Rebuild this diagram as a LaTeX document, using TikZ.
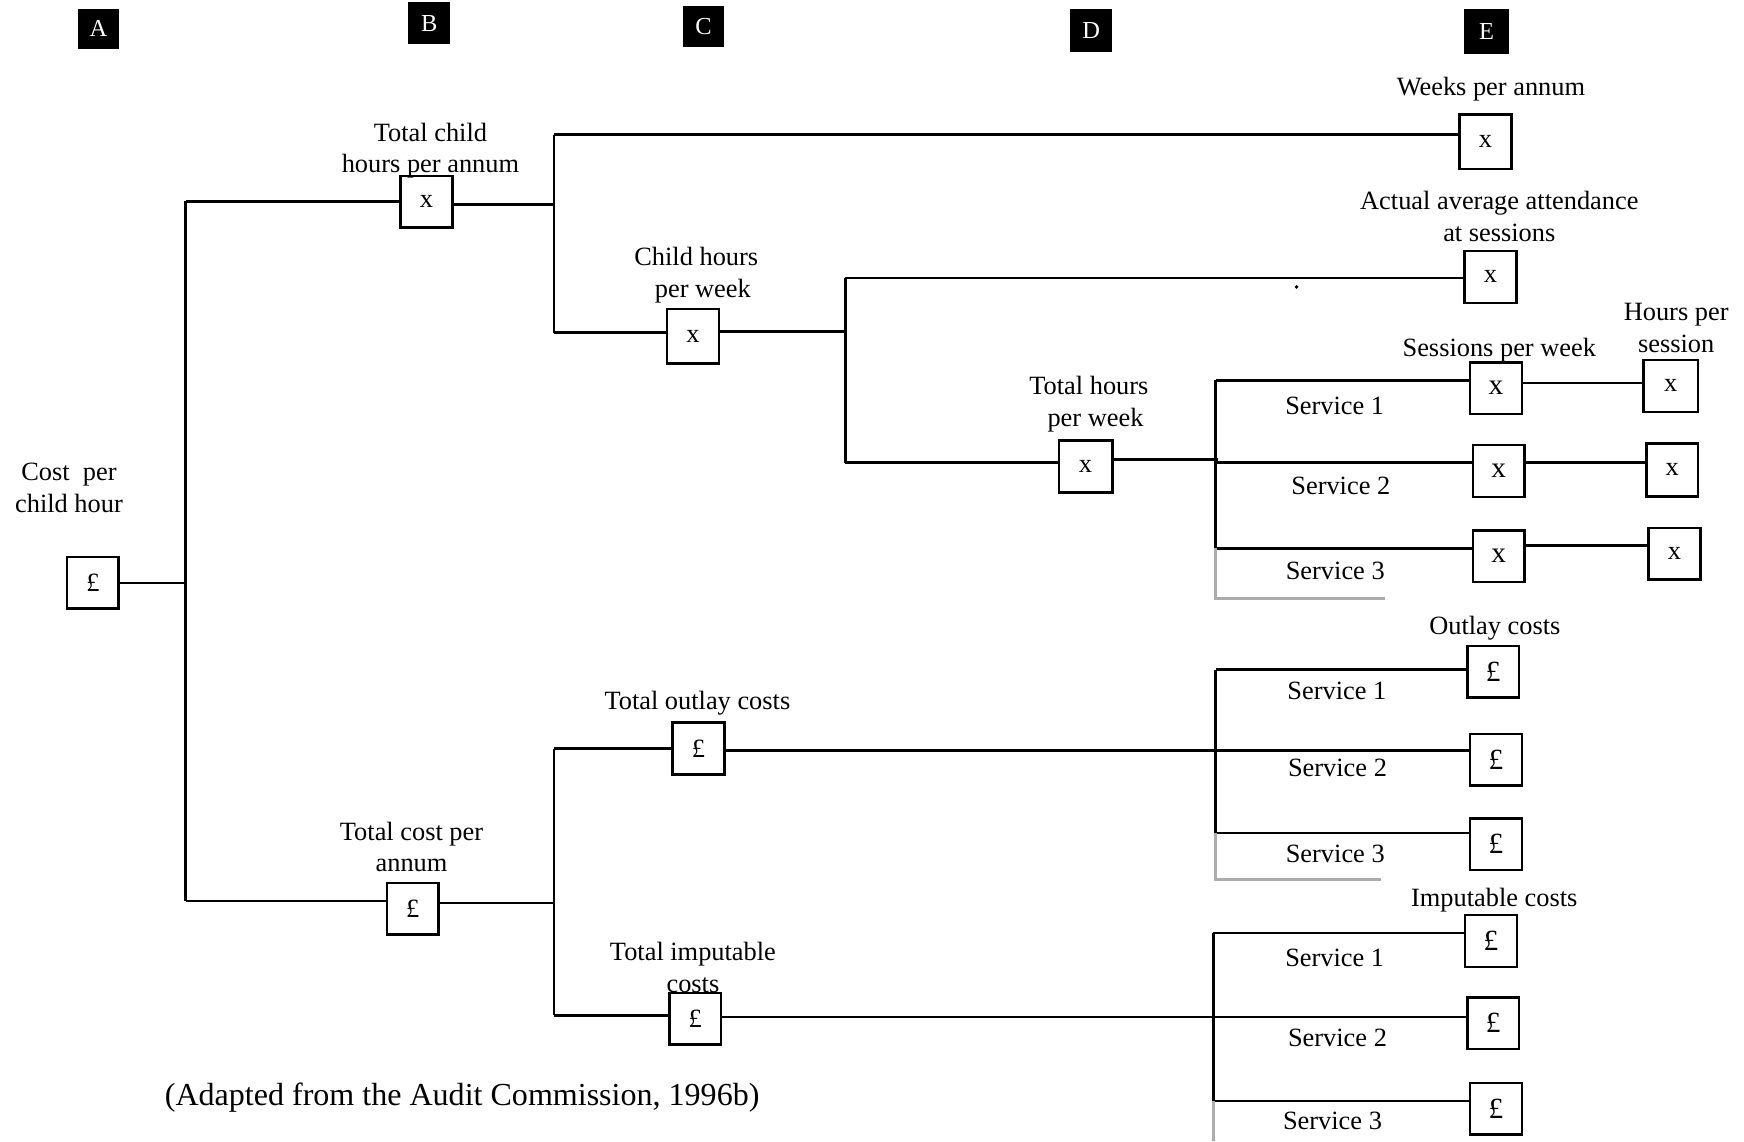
\documentclass[tikz,border=0pt]{standalone}
\usepackage{fontspec}
\setmainfont{Liberation Serif}
\begin{document}
\begin{tikzpicture}[x=0.02cm,y=-0.02cm,
  every node/.style={font=\fontsize{13.5}{16.3}\selectfont},
  lbl/.style={align=center,inner sep=0pt},
  bx/.style={draw,line width=1.3pt,minimum width=0.93cm,minimum height=0.93cm,inner sep=0pt},
  bxl/.style={bx,font=\fontsize{15}{16}\selectfont},
  letter/.style={fill=black,text=white,inner sep=0pt,font=\fontsize{12.5}{14}\selectfont},
  ln/.style={line width=1.3pt},
  hatch/.style={line width=1.5pt,gray!65}]
\useasboundingbox (0,0) rectangle (1568,1026);
% column letters
\node[letter,minimum width=0.74cm,minimum height=0.72cm] (lA) at (88.5,26) {A};
\node[letter,minimum width=0.76cm,minimum height=0.76cm] (lB) at (386,21) {B};
\node[letter,minimum width=0.74cm,minimum height=0.74cm] (lC) at (632.5,23.5) {C};
\node[letter,minimum width=0.76cm,minimum height=0.78cm] (lD) at (981,27.5) {D};
\node[letter,minimum width=0.82cm,minimum height=0.82cm] (lE) at (1336.5,28.5) {E};
% boxes
\node[bx] (cA) at (83.5,524) {£};
\node[bx] (b1) at (383.5,181.5) {x};
\node[bx,minimum height=0.98cm] (weeks) at (1335.5,127.5) {x};
\node[bx,minimum height=0.98cm] (childwk) at (623,302.5) {x};
\node[bx] (attend) at (1340,249) {x};
\node[bx,minimum width=0.96cm] (tothrs) at (976,419.5) {x};
\node[bxl] (s1x) at (1345,349) {x};
\node[bx,minimum width=0.98cm] (h1) at (1502,347) {x};
\node[bxl] (s2x) at (1347.5,423.5) {x};
\node[bx,minimum height=0.96cm] (h2) at (1503.5,422.5) {x};
\node[bxl] (s3x) at (1347.5,500) {x};
\node[bx] (h3) at (1505.5,498) {x};
\node[bx] (tcpa) at (371,817) {£};
\node[bx] (outl) at (628,673) {£};
\node[bx] (imput) at (625,916) {£};
\node[bxl] (o1) at (1342.5,604) {£};
\node[bxl] (o2) at (1345,683) {£};
\node[bxl] (o3) at (1345,759) {£};
\node[bxl] (i1) at (1340.5,846) {£};
\node[bxl] (i2) at (1342.5,920) {£};
\node[bxl] (i3) at (1345,997) {£};
% labels
\node[lbl] (tA) at (62,439) {Cost\ \ per\\child hour};
\node[lbl] (tB) at (387,135.5) {Total child\\hours per annum};
\node[lbl] (tC) at (626,247.5) {Child hours\\\ \ per week};
\node[lbl] (tD) at (979,363.5) {Total hours\\\ \ per week};
\node[lbl] (tW) at (1340.5,80) {Weeks per annum};
\node[lbl] (tAt) at (1348,195) {Actual average attendance\\at sessions};
\node[lbl] (tS) at (1348,315) {Sessions per week};
\node[lbl] (tH) at (1507,295) {Hours per\\session};
\node[lbl] (sv1) at (1200,365) {Service 1};
\node[lbl] (sv2) at (1205.5,437) {Service 2};
\node[lbl] (sv3) at (1200.5,513) {Service 3};
\node[lbl] (tO) at (1344,565) {Outlay costs};
\node[lbl] (ov1) at (1202,621) {Service 1};
\node[lbl] (ov2) at (1202.5,690) {Service 2};
\node[lbl] (ov3) at (1200.5,768) {Service 3};
\node[lbl] (tI) at (1343.5,809.5) {Imputable costs};
\node[lbl] (iv1) at (1200,861) {Service 1};
\node[lbl] (iv2) at (1202.5,933) {Service 2};
\node[lbl] (iv3) at (1198,1008) {Service 3};
\node[lbl] (tT) at (370,761.5) {Total cost per\\annum};
\node[lbl] (tTO) at (627,632) {Total outlay costs};
\node[lbl] (tTI) at (623,869.5) {Total imputable\\costs};
\node[lbl,font=\fontsize{16.4}{19}\selectfont] (cap) at (415.5,986.5) {(Adapted from the Audit Commission, 1996b)};
\fill (1165.7,258) circle (1pt);
% junction coordinates
\coordinate (v0t) at (167,181);
\coordinate (v0b) at (167,810);
\coordinate (v1t) at (498,121);
\coordinate (v1b) at (498,299);
\coordinate (v1m) at (498,184);
\coordinate (v2t) at (760,250);
\coordinate (v2b) at (760,416);
\coordinate (v2m) at (760,298);
\coordinate (v3t) at (1093,342);
\coordinate (v3m) at (1093,416);
\coordinate (v3b) at (1093,493);
\coordinate (v4t) at (498,673);
\coordinate (v4b) at (498,913);
\coordinate (v4m) at (498,812);
\coordinate (v5t) at (1093,602);
\coordinate (v5b) at (1093,749);
\coordinate (v6t) at (1091,839);
\coordinate (v6b) at (1091,990);
% connectors
\draw[ln] (cA.east) -- (cA.east -| v0t);
\draw[ln] (v0t) -- (v0b);
\draw[ln] (v0t) -- (v0t -| b1.west);
\draw[ln] (v0b) -- (v0b -| tcpa.west);
\draw[ln] (b1.east |- v1m) -- (v1m);
\draw[ln] (v1t) -- (v1b);
\draw[ln] (v1t) -- (v1t -| weeks.west);
\draw[ln] (v1b) -- (v1b -| childwk.west);
\draw[ln] (childwk.east |- v2m) -- (v2m);
\draw[ln] (v2t) -- (v2b);
\draw[ln] (v2t) -- (v2t -| attend.west);
\draw[ln] (v2b) -- (v2b -| tothrs.west);
\draw[ln] (tothrs.east |- 0,413) -- (1095,413);
\draw[ln] (v3t) -- (v3b);
\draw[ln] (v3t) -- (v3t -| s1x.west);
\draw[ln] (v3m) -- (v3m -| s2x.west);
\draw[ln] (v3b) -- (v3b -| s3x.west);
\draw[ln] (s1x.east |- 0,344.5) -- (h1.west |- 0,344.5);
\draw[ln] (s2x.east |- v3m) -- (h2.west |- v3m);
\draw[ln] (s3x.east |- 0,490.6) -- (h3.west |- 0,490.6);
\draw[hatch] (v3b) -- (1093,538) -- (1245,538);
\draw[ln] (tcpa.east |- v4m) -- (v4m);
\draw[ln] (v4t) -- (v4b);
\draw[ln] (v4t) -- (v4t -| outl.west);
\draw[ln] (outl.east |- 0,675) -- (o2.west |- 0,675);
\draw[ln] (v5t) -- (v5b);
\draw[ln] (v5t) -- (v5t -| o1.west);
\draw[ln] (v5b) -- (v5b -| o3.west);
\draw[hatch] (v5b) -- (1093,791) -- (1242,791);
\draw[ln] (v4b) -- (v4b -| imput.west);
\draw[ln] (imput.east |- 0,914.5) -- (i2.west |- 0,914.5);
\draw[ln] (v6t) -- (v6b);
\draw[ln] (v6t) -- (v6t -| i1.west);
\draw[ln] (v6b) -- (v6b -| i3.west);
\draw[hatch] (v6b) -- (1091,1026);
\end{tikzpicture}
\end{document}
